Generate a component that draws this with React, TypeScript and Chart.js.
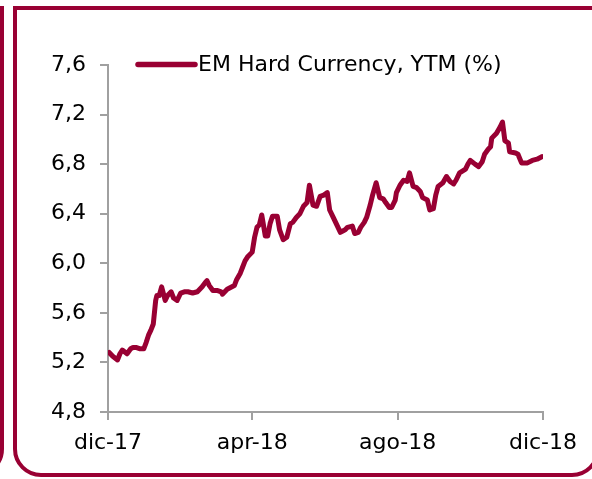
import { useEffect, useRef } from 'react';
import { Chart, registerables } from 'chart.js';

Chart.register(...registerables);

const seriesLabel = 'EM Hard Currency, YTM (%)';
const xTickLabels = ['dic-17', 'apr-18', 'ago-18', 'dic-18'];
// days elapsed since 1 dic-17 for each tick label
const xTickDays = [0, 121, 243, 365];

// days elapsed since 1 dic-17
const dayOffset = [
  1, 4, 8, 10, 12, 16, 19, 21, 24, 27, 30, 32, 34, 36, 38, 40, 41, 43, 45, 48, 50, 53, 55, 58, 61,
  64, 67, 71, 75, 79, 82, 83, 85, 88, 92, 95, 96, 100, 104, 106, 108, 111, 113, 115, 117, 121, 123,
  125, 127, 129, 132, 134, 136, 138, 142, 144, 147, 150, 153, 155, 158, 161, 164, 167, 169, 172,
  175, 178, 181, 184, 186, 189, 192, 195, 199, 201, 205, 207, 210, 212, 215, 217, 220, 222, 225,
  228, 231, 233, 236, 238, 241, 242, 245, 248, 251, 253, 256, 259, 262, 264, 268, 270, 273, 275,
  277, 281, 284, 287, 290, 292, 295, 300, 302, 304, 308, 311, 314, 316, 319, 321, 322, 326, 329,
  331, 333, 336, 337, 342, 344, 347, 352, 356, 360, 364,
];

const ytm = [
  5.28, 5.25, 5.22, 5.27, 5.3, 5.27, 5.31, 5.32, 5.32, 5.31, 5.31, 5.36, 5.42, 5.46, 5.51, 5.7,
  5.74, 5.74, 5.81, 5.7, 5.74, 5.77, 5.72, 5.7, 5.76, 5.77, 5.77, 5.76, 5.77, 5.81, 5.85, 5.86,
  5.82, 5.78, 5.78, 5.77, 5.75, 5.79, 5.81, 5.82, 5.87, 5.92, 5.97, 6.02, 6.05, 6.09, 6.21, 6.29,
  6.31, 6.39, 6.22, 6.22, 6.32, 6.38, 6.38, 6.27, 6.19, 6.21, 6.32, 6.33, 6.37, 6.4, 6.46, 6.49,
  6.63, 6.47, 6.46, 6.54, 6.55, 6.57, 6.43, 6.37, 6.31, 6.25, 6.27, 6.29, 6.3, 6.24, 6.25, 6.29,
  6.33, 6.37, 6.47, 6.55, 6.65, 6.53, 6.52, 6.49, 6.45, 6.45, 6.51, 6.57, 6.63, 6.67, 6.66, 6.73,
  6.62, 6.61, 6.58, 6.53, 6.51, 6.43, 6.44, 6.55, 6.62, 6.65, 6.7, 6.66, 6.64, 6.67, 6.73, 6.76,
  6.8, 6.83, 6.8, 6.78, 6.82, 6.88, 6.92, 6.94, 7.01, 7.05, 7.1, 7.14, 6.99, 6.97,
  6.9, 6.89, 6.88, 6.81, 6.81, 6.83, 6.84, 6.86,
];

const MAROON = '#990033';
const AXIS = '#a0a0a0';
const FONT = '"DejaVu Sans", sans-serif';

const insideLegend = {
  id: 'insideLegend',
  afterDraw(chart: any) {
    const { ctx, chartArea } = chart;
    const ds = chart.data.datasets[0];
    const y = chartArea.top - 0.5;
    const x0 = chartArea.left + 30;
    const x1 = chartArea.left + 87;
    ctx.save();
    ctx.strokeStyle = ds.borderColor;
    ctx.lineWidth = 5.5;
    ctx.lineCap = 'round';
    ctx.beginPath();
    ctx.moveTo(x0, y);
    ctx.lineTo(x1, y);
    ctx.stroke();
    ctx.font = `22px ${FONT}`;
    ctx.fillStyle = '#000';
    ctx.textBaseline = 'middle';
    ctx.textAlign = 'left';
    ctx.fillText(ds.label, x1 + 3, y + 1);
    ctx.restore();
  },
};

export default function App() {
  const ref = useRef<HTMLCanvasElement | null>(null);

  useEffect(() => {
    if (!ref.current) return;
    const chart = new Chart(ref.current, {
      type: 'line',
      data: {
        datasets: [
          {
            label: seriesLabel,
            data: dayOffset.map((d, i) => ({ x: d, y: ytm[i] })),
            borderColor: MAROON,
            backgroundColor: MAROON,
            borderWidth: 5,
            pointRadius: 0,
            tension: 0,
            borderJoinStyle: 'round',
            borderCapStyle: 'round',
          },
        ],
      },
      options: {
        animation: false,
        responsive: false,
        devicePixelRatio: 1,
        layout: { padding: { top: 65, right: 49, left: 0, bottom: 0 } },
        plugins: { legend: { display: false }, tooltip: { enabled: false } },
        scales: {
          x: {
            type: 'linear',
            min: xTickDays[0],
            max: xTickDays[xTickDays.length - 1],
            afterFit: (s: any) => {
              s.height = 67;
            },
            afterBuildTicks: (s: any) => {
              s.ticks = xTickDays.map((d) => ({ value: d }));
            },
            ticks: {
              autoSkip: false,
              maxRotation: 0,
              padding: 10,
              color: '#000',
              font: { family: FONT, size: 22 },
              callback: (v: any) => xTickLabels[xTickDays.indexOf(Number(v))] ?? '',
            },
            grid: { drawOnChartArea: false, drawTicks: true, tickLength: 8, color: AXIS, lineWidth: 2 },
            border: { display: true, color: AXIS, width: 2 },
          },
          y: {
            min: 4.8,
            max: 7.6,
            afterFit: (s: any) => {
              s.width = 108;
            },
            ticks: {
              stepSize: 0.4,
              padding: 14,
              color: '#000',
              font: { family: FONT, size: 22 },
              callback: (v: any) => Number(v).toFixed(1).replace('.', ','),
            },
            grid: { drawOnChartArea: false, drawTicks: true, tickLength: 8, color: AXIS, lineWidth: 2 },
            border: { display: true, color: AXIS, width: 2 },
          },
        },
      },
      plugins: [insideLegend],
    });
    return () => chart.destroy();
  }, []);

  const frame = {
    position: 'absolute' as const,
    top: 6,
    width: 587,
    height: 471,
    boxSizing: 'border-box' as const,
    border: `4px solid ${MAROON}`,
    borderRadius: '0 0 28px 28px',
  };

  return (
    <div
      style={{
        position: 'fixed',
        left: 0,
        top: 0,
        width: 592,
        height: 479,
        overflow: 'hidden',
        background: '#fff',
      }}
    >
      <div style={{ ...frame, left: -583 }} />
      <div style={{ ...frame, left: 13 }} />
      <canvas
        ref={ref}
        width={592}
        height={479}
        style={{ position: 'absolute', left: 0, top: 0, width: 592, height: 479 }}
      />
    </div>
  );
}
